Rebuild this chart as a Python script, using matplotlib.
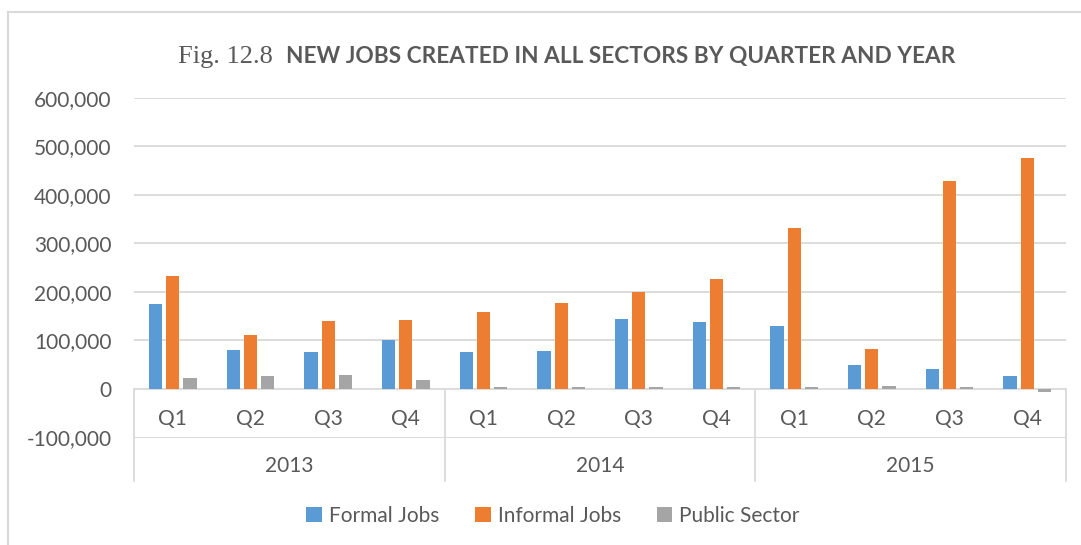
import numpy as np
import matplotlib.pyplot as plt
from matplotlib.ticker import FuncFormatter
from matplotlib.lines import Line2D

# Data
years = ['2013', '2014', '2015']
quarters = ['Q1', 'Q2', 'Q3', 'Q4']
formal_jobs = [175000, 80600, 75700, 101400, 75700, 78500, 145100, 138200, 130600, 50000, 41000, 25700]
informal_jobs = [232600, 111800, 141000, 143000, 159000, 176400, 199300, 227100, 331700, 83300, 427800, 476000]
public_sector = [23600, 26400, 28500, 19400, 4900, 3500, 4900, 3500, 4900, 5600, 3500, -6000]

series = [('Formal Jobs', formal_jobs, '#5B9BD5'),
          ('Informal Jobs', informal_jobs, '#ED7D31'),
          ('Public Sector', public_sector, '#A5A5A5')]

plt.rcParams['font.family'] = ['Lato', 'DejaVu Sans']
text_color = '#595959'
grid_color = '#D9D9D9'

W, H = 1081, 545
fig = plt.figure(figsize=(W / 100, H / 100), dpi=100)

# chart frame (top and left edges visible)
fig.add_artist(Line2D([8 / W, 1.0], [1 - 12 / H, 1 - 12 / H], color=grid_color, lw=1.5))
fig.add_artist(Line2D([8 / W, 8 / W], [0.0, 1 - 12 / H], color=grid_color, lw=1.5))

ax = fig.add_axes([134 / W, (H - 437.5) / H, 932 / W, 339.8 / H])

n = len(formal_jobs)
x = np.arange(n)
offsets = [-0.222, 0.0, 0.222]
for (name, vals, col), off in zip(series, offsets):
    ax.bar(x + off, vals, width=0.17, color=col, label=name, zorder=3)

ax.set_xlim(-0.5, n - 0.5)
ax.set_ylim(-100000, 600000)
ax.set_yticks(np.arange(-100000, 600001, 100000))
ax.yaxis.set_major_formatter(FuncFormatter(lambda v, p: '{:,.0f}'.format(v)))
ax.yaxis.grid(True, color=grid_color, lw=1.3, zorder=0)
ax.set_axisbelow(True)
ax.set_xticks([])
for s in ax.spines.values():
    s.set_visible(False)
ax.tick_params(axis='y', length=0, pad=16, labelsize=15, labelcolor=text_color)

# multi-level category axis
tr = ax.get_xaxis_transform()
for i in range(n):
    ax.text(i, 0.055, quarters[i % 4], transform=tr, ha='center', va='center',
            fontsize=15, color=text_color)
for j, yr in enumerate(years):
    ax.text(j * 4 + 1.5, -0.085, yr, transform=tr, ha='center', va='center',
            fontsize=15, color=text_color)
for xs in [-0.5, 3.5, 7.5, 11.5]:
    ax.plot([xs, xs], [0.1427, -0.128], transform=tr, color=grid_color, lw=1.3,
            clip_on=False, zorder=1)

# title: serif figure number plus bold caption
t1 = fig.text(178 / W, 1 - 63.5 / H, 'Fig. 12.8', family='Liberation Serif',
              fontsize=19, color=text_color, ha='left', va='baseline')
fig.canvas.draw()
bb = t1.get_window_extent()
fig.text((bb.x1 + 13) / W, 1 - 63.5 / H, 'NEW JOBS CREATED IN ALL SECTORS BY QUARTER AND YEAR',
         fontsize=16.3, fontweight='bold', color=text_color, ha='left', va='baseline')

fig.legend(loc='center', bbox_to_anchor=(553 / W, 1 - 516 / H), ncol=3, frameon=False,
           fontsize=15, labelcolor=text_color, handlelength=0.75, handleheight=0.75,
           handletextpad=0.35, columnspacing=1.7)

plt.savefig('out.png', dpi=100)
